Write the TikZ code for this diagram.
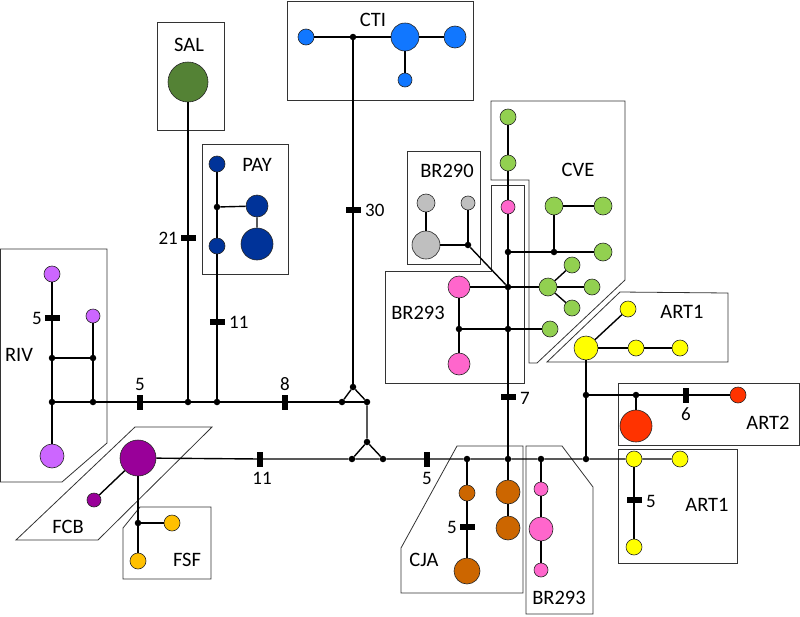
\documentclass[tikz,border=0pt]{standalone}
\usepackage{fontspec}
\setmainfont{Carlito}
\definecolor{rivc}{RGB}{204,102,255}
\definecolor{fcbc}{RGB}{153,0,153}
\definecolor{fsfc}{RGB}{255,192,0}
\definecolor{salc}{RGB}{84,130,53}
\definecolor{payc}{RGB}{0,51,153}
\definecolor{ctic}{RGB}{17,119,255}
\definecolor{bgc}{RGB}{191,191,191}
\definecolor{pkc}{RGB}{255,102,204}
\definecolor{cvec}{RGB}{146,208,80}
\definecolor{art1c}{RGB}{255,255,0}
\definecolor{art2c}{RGB}{255,51,0}
\definecolor{cjac}{RGB}{204,102,0}
\tikzset{
  hap/.style={circle,draw=black!85,line width=0.6pt,inner sep=0pt},
  jn/.style={circle,fill=black,inner sep=0pt,minimum size=6.5pt},
  mut/.style={fill=black,inner sep=0pt,minimum width=15pt,minimum height=5.5pt},
  mutv/.style={fill=black,inner sep=0pt,minimum width=5.5pt,minimum height=15pt},
  grp/.style={draw=black!80,line width=0.8pt},
  lbl/.style={font=\fontsize{20.5}{24}\selectfont,inner sep=0pt},
  num/.style={font=\fontsize{19}{22}\selectfont,inner sep=0pt},
  link/.style={line width=1.4pt}
}
\begin{document}
\begin{tikzpicture}[x=1pt,y=-1pt]
	\useasboundingbox (0,0) rectangle (800,616);
	% group boxes
	\draw[grp] (0.5,249) -- (107,249) -- (107,443) -- (62,482) -- (0.5,482) -- cycle;
	\draw[grp] (157,22) rectangle (224,130);
	\draw[grp] (202,144) rectangle (288,274);
	\draw[grp] (287,1) rectangle (473,100);
	\draw[grp] (407,151) rectangle (480,264);
	\draw[grp] (491,101) -- (625,101) -- (625,280) -- (537,363) -- (529,363) -- (529,180) -- (491,180) -- cycle;
	\draw[grp] (385,271) -- (491,271) -- (491,185) -- (524,185) -- (524,383) -- (385,383) -- cycle;
	\draw[grp] (620,292) -- (728,293) -- (728,362) -- (547,362) -- cycle;
	\draw[grp] (618,383) rectangle (799,445);
	\draw[grp] (618,449) rectangle (737,563);
	\draw[grp] (135,427) -- (212,427) -- (98,540) -- (16,540) -- cycle;
	\draw[grp] (140,507) -- (211,507) -- (211,579) -- (123,579) -- (123,528) -- cycle;
	\draw[grp] (457,446) -- (523,446) -- (523,593) -- (401,593) -- (401,548) -- cycle;
	\draw[grp] (526,446) -- (562,446) -- (593,487) -- (593,614) -- (526,614) -- cycle;
	% group names
	\node[lbl] (lRIV) at (19,355) {RIV};
	\node[lbl] (lFCB) at (68,527) {FCB};
	\node[lbl] (lFSF) at (187,560) {FSF};
	\node[lbl] (lSAL) at (189,45) {SAL};
	\node[lbl] (lPAY) at (257,165) {PAY};
	\node[lbl] (lCTI) at (373,20) {CTI};
	\node[lbl] (lBRa) at (447,171) {BR290};
	\node[lbl] (lCVE) at (578,170) {CVE};
	\node[lbl] (lBRb) at (418,313) {BR293};
	\node[lbl] (lARTa) at (682,312) {ART1};
	\node[lbl] (lARTb) at (768,423) {ART2};
	\node[lbl] (lARTc) at (707,505) {ART1};
	\node[lbl] (lCJA) at (424,560) {CJA};
	\node[lbl] (lBRc) at (559,598) {BR293};
	% haplotypes
	\node[hap,fill=rivc,minimum size=16pt] (rivA) at (52,274) {};
	\node[hap,fill=rivc,minimum size=14pt] (rivB) at (93,316) {};
	\node[hap,fill=rivc,minimum size=24pt] (rivC) at (52,456) {};
	\node[hap,fill=fcbc,minimum size=36pt] (fcbA) at (138,458) {};
	\node[hap,fill=fcbc,minimum size=14pt] (fcbB) at (94,500) {};
	\node[hap,fill=fsfc,minimum size=16pt] (fsfA) at (172,523) {};
	\node[hap,fill=fsfc,minimum size=16pt] (fsfB) at (138,561) {};
	\node[hap,fill=salc,minimum size=40pt] (sal) at (188,82) {};
	\node[hap,fill=payc,minimum size=16pt] (payA) at (217,164) {};
	\node[hap,fill=payc,minimum size=22pt] (payB) at (257,206) {};
	\node[hap,fill=payc,minimum size=32pt] (payC) at (257,244) {};
	\node[hap,fill=payc,minimum size=16pt] (payD) at (217,246) {};
	\node[hap,fill=ctic,minimum size=16pt] (ctiA) at (306,37) {};
	\node[hap,fill=ctic,minimum size=28pt] (ctiB) at (405,37) {};
	\node[hap,fill=ctic,minimum size=22pt] (ctiC) at (455,37) {};
	\node[hap,fill=ctic,minimum size=14pt] (ctiD) at (405,80) {};
	\node[hap,fill=bgc,minimum size=18pt] (bgA) at (426,203) {};
	\node[hap,fill=bgc,minimum size=14pt] (bgB) at (468,203) {};
	\node[hap,fill=bgc,minimum size=28pt] (bgC) at (426,245) {};
	\node[hap,fill=cvec,minimum size=16pt] (cveA) at (508,117) {};
	\node[hap,fill=cvec,minimum size=16pt] (cveB) at (508,163) {};
	\node[hap,fill=cvec,minimum size=18pt] (cveC) at (603,252) {};
	\node[hap,fill=cvec,minimum size=18pt] (cveD) at (554,206) {};
	\node[hap,fill=cvec,minimum size=18pt] (cveE) at (603,206) {};
	\node[hap,fill=cvec,minimum size=18pt] (cveF) at (548,287) {};
	\node[hap,fill=cvec,minimum size=16pt] (cveG) at (572,265) {};
	\node[hap,fill=cvec,minimum size=16pt] (cveH) at (592,287) {};
	\node[hap,fill=cvec,minimum size=16pt] (cveI) at (572,308) {};
	\node[hap,fill=cvec,minimum size=16pt] (cveJ) at (550,329) {};
	\node[hap,fill=pkc,minimum size=14pt] (pkA) at (508,207) {};
	\node[hap,fill=pkc,minimum size=22pt] (pkB) at (459,287) {};
	\node[hap,fill=pkc,minimum size=22pt] (pkC) at (459,364) {};
	\node[hap,fill=pkc,minimum size=14pt] (pkD) at (541,489) {};
	\node[hap,fill=pkc,minimum size=24pt] (pkE) at (541,529) {};
	\node[hap,fill=pkc,minimum size=14pt] (pkF) at (541,570) {};
	\node[hap,fill=cjac,minimum size=16pt] (cjA) at (467,493) {};
	\node[hap,fill=cjac,minimum size=26pt] (cjB) at (467,571) {};
	\node[hap,fill=cjac,minimum size=24pt] (cjC) at (508,492) {};
	\node[hap,fill=cjac,minimum size=24pt] (cjD) at (508,528) {};
	\node[hap,fill=art1c,minimum size=24pt] (artA) at (586,348) {};
	\node[hap,fill=art1c,minimum size=16pt] (artB) at (628,309) {};
	\node[hap,fill=art1c,minimum size=16pt] (artC) at (636,348) {};
	\node[hap,fill=art1c,minimum size=16pt] (artF) at (680,348) {};
	\node[hap,fill=art1c,minimum size=16pt] (artD) at (634,459) {};
	\node[hap,fill=art1c,minimum size=16pt] (artE) at (680,459) {};
	\node[hap,fill=art1c,minimum size=16pt] (artG) at (634,547) {};
	\node[hap,fill=art2c,minimum size=16pt] (art2A) at (738,395) {};
	\node[hap,fill=art2c,minimum size=32pt] (art2B) at (636,426) {};
	% median vectors
	\node[jn] (jriv1) at (52,358) {};
	\node[jn] (jriv2) at (93,358) {};
	\node[jn] (jriv3) at (52,402) {};
	\node[jn] (jriv4) at (93,402) {};
	\node[jn] (jsal) at (188,402) {};
	\node[jn] (jpay) at (217,402) {};
	\node[jn] (jpay1) at (217,207) {};
	\node[jn] (jtl) at (342,402) {};
	\node[jn] (jtr) at (367,402) {};
	\node[jn] (jtt) at (353,387) {};
	\node[jn] (jbt) at (367,442) {};
	\node[jn] (jbl) at (352,459) {};
	\node[jn] (jbr) at (383,459) {};
	\node[jn] (jcti) at (353,37) {};
	\node[jn] (jfsf) at (138,523) {};
	\node[jn] (jbg) at (468,245) {};
	\node[jn] (j252) at (508,252) {};
	\node[jn] (j287) at (508,287) {};
	\node[jn] (j329) at (508,329) {};
	\node[jn] (jcve) at (554,252) {};
	\node[jn] (jpk) at (459,329) {};
	\node[jn] (jcja) at (467,459) {};
	\node[jn] (jmid) at (508,459) {};
	\node[jn] (jbr2) at (541,459) {};
	\node[jn] (jart) at (586,459) {};
	\node[jn] (j395) at (586,395) {};
	\node[jn] (jart2) at (636,395) {};
	% mutation marks
	\node[mut] (m5a) at (52,318) {};
	\node[mutv] (m5b) at (140,402) {};
	\node[mutv] (m8) at (285,402) {};
	\node[mut] (m21) at (188,238) {};
	\node[mut] (m11a) at (217,322) {};
	\node[mut] (m30) at (353,210) {};
	\node[mutv] (m11b) at (260,459) {};
	\node[mutv] (m5c) at (427,459) {};
	\node[mut] (m7) at (508,397) {};
	\node[mut] (m5d) at (467,527) {};
	\node[mutv] (m6) at (686,395) {};
	\node[mut] (m5e) at (634,500) {};
	\node[num,anchor=east] (n5a) at (42,318) {5};
	\node[num] (n5b) at (140,384) {5};
	\node[num] (n8) at (285,384) {8};
	\node[num,anchor=east] (n21) at (178,238) {21};
	\node[num,anchor=west] (n11a) at (229,322) {11};
	\node[num,anchor=west] (n30) at (365,210) {30};
	\node[num] (n11b) at (262,478) {11};
	\node[num] (n5c) at (427,478) {5};
	\node[num,anchor=west] (n7) at (520,398) {7};
	\node[num,anchor=east] (n5d) at (457,527) {5};
	\node[num] (n6) at (686,414) {6};
	\node[num,anchor=west] (n5e) at (646,501) {5};
	% connections
	\draw[link] (rivA) -- (m5a) -- (jriv1) -- (jriv3) -- (rivC);
	\draw[link] (rivB) -- (jriv2) -- (jriv4);
	\draw[link] (jriv1) -- (jriv2);
	\draw[link] (jriv3) -- (jriv4) -- (m5b) -- (jsal) -- (jpay) -- (m8) -- (jtl) -- (jtr);
	\draw[link] (jtl) -- (jtt) -- (jtr) -- (jbt);
	\draw[link] (jbl) -- (jbt) -- (jbr);
	\draw[link] (jtt) -- (m30) -- (jcti);
	\draw[link] (sal) -- (m21) -- (jsal);
	\draw[link] (payA) -- (jpay1) -- (payD) -- (m11a) -- (jpay);
	\draw[link] (jpay1) -- (payB) -- (payC);
	\draw[link] (ctiA) -- (jcti) -- (ctiB) -- (ctiC);
	\draw[link] (ctiB) -- (ctiD);
	\draw[link] (fcbA) -- (m11b) -- (jbl) -- (jbr) -- (m5c) -- (jcja) -- (jmid) -- (jbr2) -- (jart) -- (artD) -- (artE);
	\draw[link] (fcbA) -- (fcbB);
	\draw[link] (fcbA) -- (jfsf) -- (fsfB);
	\draw[link] (jfsf) -- (fsfA);
	\draw[link] (bgA) -- (bgC) -- (jbg) -- (bgB);
	\draw[link] (jbg) -- (j287);
	\draw[link] (cveA) -- (cveB) -- (pkA) -- (j252) -- (j287) -- (j329) -- (m7) -- (jmid);
	\draw[link] (j252) -- (jcve) -- (cveC);
	\draw[link] (jcve) -- (cveD) -- (cveE);
	\draw[link] (j287) -- (cveF);
	\draw[link] (cveF) -- (cveG);
	\draw[link] (cveF) -- (cveH);
	\draw[link] (cveF) -- (cveI);
	\draw[link] (j287) -- (pkB) -- (jpk) -- (pkC);
	\draw[link] (jpk) -- (j329) -- (cveJ);
	\draw[link] (jcja) -- (cjA) -- (m5d) -- (cjB);
	\draw[link] (jmid) -- (cjC) -- (cjD);
	\draw[link] (jbr2) -- (pkD) -- (pkE) -- (pkF);
	\draw[link] (jart) -- (j395) -- (artA);
	\draw[link] (j395) -- (jart2) -- (m6) -- (art2A);
	\draw[link] (jart2) -- (art2B);
	\draw[link] (artA) -- (artB);
	\draw[link] (artA) -- (artC) -- (artF);
	\draw[link] (artD) -- (m5e) -- (artG);
\end{tikzpicture}
\end{document}
